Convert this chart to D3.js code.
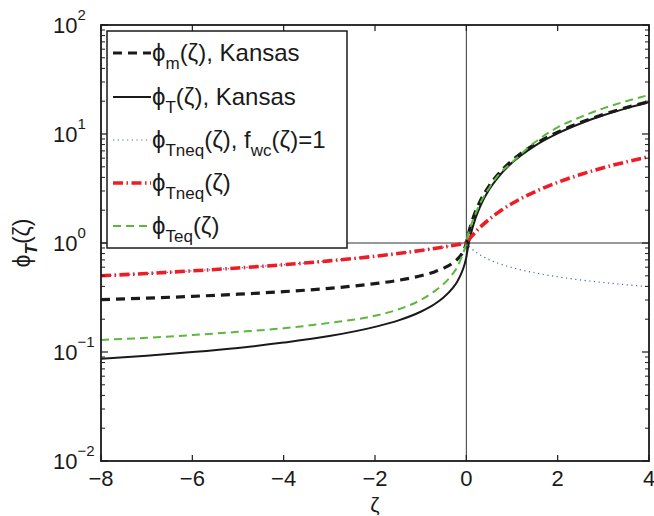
<!DOCTYPE html>
<html>
<head>
<meta charset="utf-8">
<script src="https://cdn.jsdelivr.net/npm/d3@7"></script>
<style>
  body { margin: 0; background: #fff; }
  text { font-family: "Liberation Sans", Arial, sans-serif; fill: #1a1a1a; }
</style>
</head>
<body>
<div id="chart"></div>
<script>
var width = 654,
    height = 516;

var margin = {top: 25, right: 5, bottom: 55, left: 101};

// zeta sample points
var zeta = [-8, -7, -6, -5, -4, -3, -2, -1.5, -1, -0.7, -0.5, -0.3, -0.2, -0.1, -0.05, -0.02, 0,
            0.02, 0.05, 0.1, 0.2, 0.3, 0.5, 0.7, 1, 1.5, 2, 2.5, 3, 3.5, 4];

var phiM = [0.302, 0.312, 0.324, 0.339, 0.358, 0.384, 0.424, 0.454, 0.500, 0.543, 0.586, 0.653, 0.707, 0.795, 0.869, 0.937, 1.00,
            1.094, 1.235, 1.47, 1.94, 2.41, 3.35, 4.29, 5.7, 8.05, 10.4, 12.75, 15.1, 17.45, 19.8];

var phiT = [0.0866, 0.0925, 0.0998, 0.109, 0.122, 0.140, 0.170, 0.194, 0.234, 0.274, 0.316, 0.385, 0.442, 0.537, 0.615, 0.681, 0.74,
            0.834, 0.975, 1.21, 1.68, 2.15, 3.09, 4.03, 5.44, 7.79, 10.14, 12.49, 14.84, 17.19, 19.54];

var phiTneqF1 = [0.5, 0.525, 0.555, 0.590, 0.632, 0.686, 0.756, 0.80, 0.853, 0.890, 0.918, 0.948, 0.964, 0.982, 0.991, 0.996, 1.0,
                 0.976, 0.944, 0.899, 0.830, 0.778, 0.703, 0.651, 0.595, 0.533, 0.490, 0.458, 0.434, 0.414, 0.397];

var phiTneq = [0.5, 0.525, 0.555, 0.590, 0.632, 0.686, 0.756, 0.80, 0.853, 0.890, 0.918, 0.948, 0.964, 0.982, 0.991, 0.996, 1.0,
               1.026, 1.065, 1.13, 1.26, 1.39, 1.65, 1.91, 2.3, 2.95, 3.6, 4.25, 4.9, 5.55, 6.2];

var phiTeq = [0.129, 0.135, 0.143, 0.153, 0.165, 0.185, 0.215, 0.245, 0.30, 0.36, 0.42, 0.52, 0.60, 0.75, 0.85, 0.93, 1.0,
              1.1, 1.25, 1.45, 1.85, 2.3, 3.2, 4.2, 5.5, 8.4, 11.5, 14.3, 17.2, 20.0, 22.8];

var xTicks = [-8, -6, -4, -2, 0, 2, 4];
var yExps = [-2, -1, 0, 1, 2];

var series = [
  {name: "m", sub: "m", extra: ", Kansas", values: phiM, color: "#1a1a1a", width: 3.2, dash: "9,6"},
  {name: "T", sub: "T", extra: ", Kansas", values: phiT, color: "#1a1a1a", width: 2, dash: null},
  {name: "TneqF1", sub: "Tneq", extra: "fwc", values: phiTneqF1, color: "#4a62b8", width: 1.2, dash: "1.2,3.5"},
  {name: "Tneq", sub: "Tneq", extra: "", values: phiTneq, color: "#ee1c24", width: 3.6, dash: "10,3.5,1.5,3.5"},
  {name: "Teq", sub: "Teq", extra: "", values: phiTeq, color: "#5cb83c", width: 2, dash: "8,5"}
];

var svg = d3.select("#chart").append("svg")
    .attr("width", width)
    .attr("height", height);

var iw = width - margin.left - margin.right,
    ih = height - margin.top - margin.bottom;

var x = d3.scaleLinear().domain([-8, 4]).range([margin.left, margin.left + iw]);
var y = d3.scaleLog().domain([0.01, 100]).range([margin.top + ih, margin.top]);

// reference lines at zeta=0 and phi=1
svg.append("line")
    .attr("x1", x(0)).attr("x2", x(0))
    .attr("y1", y(0.01)).attr("y2", y(100))
    .attr("stroke", "#333").attr("stroke-width", 1);
svg.append("line")
    .attr("x1", x(-8)).attr("x2", x(4))
    .attr("y1", y(1)).attr("y2", y(1))
    .attr("stroke", "#333").attr("stroke-width", 1);

var line = d3.line()
    .x(function(d, i) { return x(zeta[i]); })
    .y(function(d) { return y(d); })
    .curve(d3.curveMonotoneX);

svg.append("clipPath").attr("id", "clip")
  .append("rect")
    .attr("x", margin.left).attr("y", margin.top)
    .attr("width", iw).attr("height", ih);

svg.append("g")
    .attr("clip-path", "url(#clip)")
  .selectAll("path")
  .data(series)
  .enter().append("path")
    .attr("d", function(d) { return line(d.values); })
    .attr("fill", "none")
    .attr("stroke", function(d) { return d.color; })
    .attr("stroke-width", function(d) { return d.width; })
    .attr("stroke-dasharray", function(d) { return d.dash; });

// axes box with inward ticks
var axisColor = "#1a1a1a";
var minor = [];
for (var e = -2; e < 2; e++) {
  for (var k = 2; k <= 9; k++) minor.push(k * Math.pow(10, e));
}

var ticksG = svg.append("g").attr("stroke", axisColor);
xTicks.forEach(function(t) {
  ticksG.append("line").attr("x1", x(t)).attr("x2", x(t))
      .attr("y1", y(0.01)).attr("y2", y(0.01) - 6).attr("stroke-width", 1.2);
  ticksG.append("line").attr("x1", x(t)).attr("x2", x(t))
      .attr("y1", y(100)).attr("y2", y(100) + 6).attr("stroke-width", 1.2);
});
yExps.forEach(function(p) {
  var v = Math.pow(10, p);
  ticksG.append("line").attr("x1", x(-8)).attr("x2", x(-8) + 7)
      .attr("y1", y(v)).attr("y2", y(v)).attr("stroke-width", 1.2);
  ticksG.append("line").attr("x1", x(4)).attr("x2", x(4) - 7)
      .attr("y1", y(v)).attr("y2", y(v)).attr("stroke-width", 1.2);
});
minor.forEach(function(v) {
  ticksG.append("line").attr("x1", x(-8)).attr("x2", x(-8) + 4)
      .attr("y1", y(v)).attr("y2", y(v)).attr("stroke-width", 1);
  ticksG.append("line").attr("x1", x(4)).attr("x2", x(4) - 4)
      .attr("y1", y(v)).attr("y2", y(v)).attr("stroke-width", 1);
});

svg.append("rect")
    .attr("x", margin.left).attr("y", margin.top)
    .attr("width", iw).attr("height", ih)
    .attr("fill", "none").attr("stroke", axisColor).attr("stroke-width", 1.8);

// tick labels
svg.append("g").selectAll("text")
  .data(xTicks)
  .enter().append("text")
    .attr("x", function(d) { return x(d); })
    .attr("y", y(0.01) + 25)
    .attr("text-anchor", "middle")
    .style("font-size", "22px")
    .text(function(d) { return d < 0 ? "\u2212" + Math.abs(d) : d; });

var yl = svg.append("g").selectAll("text")
  .data(yExps)
  .enter().append("text")
    .attr("x", 53)
    .attr("y", function(d) { return y(Math.pow(10, d)) + 8; })
    .style("font-size", "22px");
yl.append("tspan").text("10");
yl.append("tspan")
    .attr("dy", -13)
    .style("font-size", "15px")
    .text(function(d) { return d < 0 ? "\u2212" + Math.abs(d) : d; });

// axis titles
svg.append("text")
    .attr("x", x(-2))
    .attr("y", 512)
    .attr("text-anchor", "middle")
    .style("font-size", "21px")
    .text("\u03b6");

var ytitle = svg.append("text")
    .attr("transform", "translate(30," + y(1) + ") rotate(-90)")
    .attr("text-anchor", "middle")
    .style("font-size", "23px");
ytitle.append("tspan").text("\u03d5");
ytitle.append("tspan").attr("dy", 7).style("font-size", "17px")
    .style("font-weight", "bold").style("font-style", "italic").text("T");
ytitle.append("tspan").attr("dy", -7).text("(\u03b6)");

// legend
var legend = svg.append("g");
legend.append("rect")
    .attr("x", 107).attr("y", 31)
    .attr("width", 240).attr("height", 217)
    .attr("fill", "#fff").attr("stroke", axisColor).attr("stroke-width", 1.5);

var rowY = [53, 97, 140, 183, 226];
series.forEach(function(s, i) {
  var ry = rowY[i];
  legend.append("line")
      .attr("x1", 113).attr("x2", 151)
      .attr("y1", ry).attr("y2", ry)
      .attr("stroke", s.color)
      .attr("stroke-width", s.width)
      .attr("stroke-dasharray", s.dash);
  var t = legend.append("text")
      .attr("x", 152).attr("y", ry + 8)
      .style("font-size", "24px");
  t.append("tspan").text("\u03d5");
  t.append("tspan").attr("dy", 8).style("font-size", "17px").text(s.sub);
  t.append("tspan").attr("dy", -8).text("(\u03b6)");
  if (s.extra == "fwc") {
    t.append("tspan").text(", f");
    t.append("tspan").attr("dy", 8).style("font-size", "17px").text("wc");
    t.append("tspan").attr("dy", -8).text("(\u03b6)=1");
  } else if (s.extra) {
    t.append("tspan").text(s.extra);
  }
});
</script>
</body>
</html>
